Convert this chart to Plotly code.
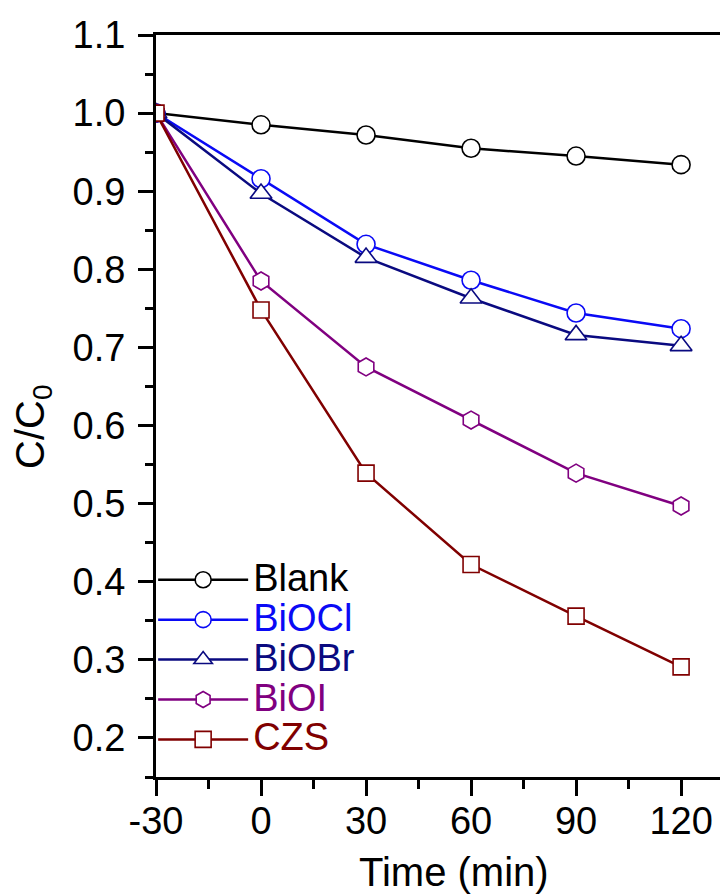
import plotly.graph_objects as go

time_min = [-30, 0, 30, 60, 90, 120]
time_labels = ["-30", "0", "30", "60", "90", "120"]
blank = [1.0, 0.985, 0.972, 0.955, 0.945, 0.934]
biocl = [1.0, 0.916, 0.832, 0.786, 0.744, 0.724]
biobr = [1.0, 0.897, 0.815, 0.763, 0.716, 0.702]
bioi = [1.0, 0.785, 0.675, 0.607, 0.539, 0.497]
czs = [1.0, 0.748, 0.539, 0.422, 0.356, 0.291]
y_ticks = [0.2, 0.3, 0.4, 0.5, 0.6, 0.7, 0.8, 0.9, 1.0, 1.1]

series = [
    ("Blank", blank, "#000000", "circle", 18),
    ("BiOCl", biocl, "#0A0AF5", "circle", 18),
    ("BiOBr", biobr, "#0A0A80", "triangle-up", 19),
    ("BiOI", bioi, "#800080", "hexagon", 18),
    ("CZS", czs, "#800000", "square", 16),
]

fig = go.Figure()
for name, vals, color, sym, size in series:
    fig.add_trace(go.Scatter(
        x=time_min, y=vals, mode="lines+markers",
        name=f'<span style="color:{color};font-size:38px">{name}</span>',
        line=dict(color=color, width=2.5),
        marker=dict(symbol=sym, size=size, color="white",
                    line=dict(color=color, width=1.6)),
    ))

font_family = "Liberation Sans, Arial, sans-serif"
fig.update_layout(
    width=720, height=887,
    margin=dict(l=148, r=0, t=26.5, b=118),
    paper_bgcolor="white", plot_bgcolor="white",
    font=dict(family=font_family, color="black", size=38),
    showlegend=True,
    legend=dict(x=-0.005, y=0.0165, xanchor="left", yanchor="bottom",
                bgcolor="rgba(0,0,0,0)", font=dict(size=28.4),
                itemwidth=90, tracegroupgap=0),
    xaxis=dict(
        range=[-30, 133.4], tickvals=time_min, ticktext=time_labels,
        ticks="outside", ticklen=16, tickwidth=2.5, tickcolor="black",
        showline=True, linecolor="black", linewidth=3, mirror=True,
        showgrid=False, zeroline=False, automargin=False,
        minor=dict(dtick=15, tick0=-30, ticks="outside", ticklen=9, tickwidth=2.5, tickcolor="black"),
        tickfont=dict(size=38), ticklabelstandoff=-8,
    ),
    yaxis=dict(
        range=[0.15, 1.1], tickvals=y_ticks,
        tickformat=".1f",
        ticks="outside", ticklen=15, tickwidth=2.5, tickcolor="black",
        showline=True, linecolor="black", linewidth=3, mirror=False,
        showgrid=False, zeroline=False, automargin=False,
        minor=dict(dtick=0.05, tick0=0.15, ticks="outside", ticklen=8, tickwidth=2.5, tickcolor="black"),
        tickfont=dict(size=38), ticklabelstandoff=5,
    ),
    annotations=[
        dict(text="Time (min)", xref="paper", yref="paper", x=0.521, y=0,
             xanchor="center", yanchor="top", yshift=-71, showarrow=False,
             font=dict(size=40, family=font_family, color="black")),
        dict(text="C/C<sub>0</sub>", xref="paper", yref="paper", x=0, y=0.4717,
             xanchor="center", yanchor="middle", xshift=-123, textangle=-90,
             showarrow=False, font=dict(size=40, family=font_family, color="black")),
    ],
)

fig.write_html("out.html")
